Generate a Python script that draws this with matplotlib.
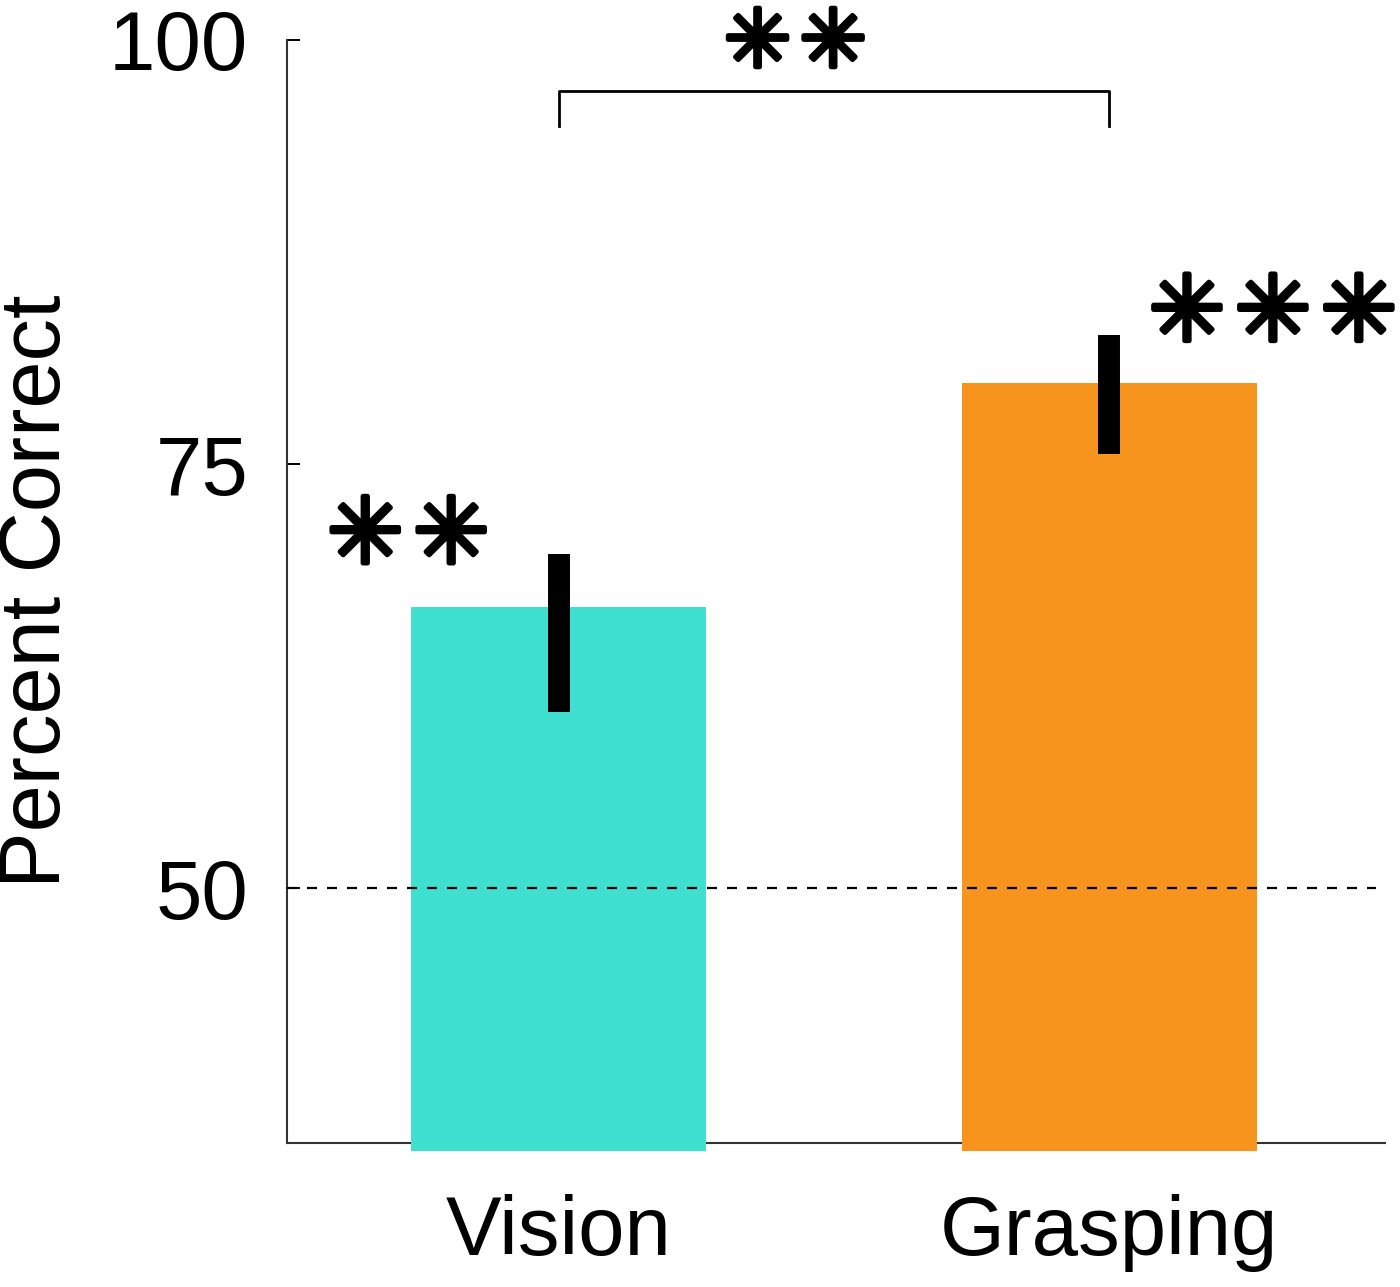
import matplotlib
matplotlib.use("Agg")
import matplotlib.pyplot as plt
import matplotlib.patheffects as pe

# data
conditions = ["Vision", "Grasping"]
means = [66.6, 79.8]
err_low = [60.4, 75.6]
err_high = [69.7, 82.6]
bar_colors = ["#40E0D0", "#F7941E"]
chance = 50
ytick_vals = [50, 75, 100]

plt.rcParams['font.family'] = ['Liberation Sans', 'DejaVu Sans']

fig = plt.figure(figsize=(14, 12.87), dpi=100)
ax = fig.add_axes([0.205, 0.1119, 0.784, 0.8572])

x = [1, 2]
base = 34.5
ax.bar(x, [m - base for m in means], bottom=base, width=0.535,
       color=bar_colors, zorder=3, clip_on=False)
ax.vlines(x, err_low, err_high, color="k", lw=15.8, zorder=5)
ax.axhline(chance, color="k", ls=(0, (4.5, 4.5)), lw=1.6, zorder=4,
           xmax=0.992)

# significance bracket
ax.plot([1, 1, 2, 2], [94.9, 97, 97, 94.9], color="k", lw=2, clip_on=False,
        zorder=5)

star = "\u2733"
gap = "\u200a"
star_kw = dict(ha="center", va="center", color="k", clip_on=False,
               family="DejaVu Sans", fontweight="bold", zorder=6,
               path_effects=[pe.withStroke(linewidth=3.5, foreground="k")])
ax.text(1.43, 99.7, gap.join([star] * 2), fontsize=58, **star_kw)
ax.text(0.727, 70.7, gap.join([star] * 2), fontsize=66, **star_kw)
ax.text(2.297, 83.8, gap.join([star] * 3), fontsize=66, **star_kw)

ax.set_xlim(0.507, 2.5)
ax.set_ylim(35, 100)
ax.set_xticks(x)
ax.set_xticklabels(conditions)
ax.set_yticks(ytick_vals)
ax.set_yticklabels([str(v) for v in ytick_vals])
ax.tick_params(axis="y", direction="in", length=9, width=1.4, labelsize=60,
               pad=28)
ax.tick_params(axis="x", length=0, labelsize=60, pad=37)
ax.set_ylabel("Percent Correct", fontsize=61, labelpad=22)

for s in ["top", "right"]:
    ax.spines[s].set_visible(False)
for s in ["left", "bottom"]:
    ax.spines[s].set_linewidth(1.5)
    ax.spines[s].set_color("#333333")

fig.savefig("out.png", dpi=100)
